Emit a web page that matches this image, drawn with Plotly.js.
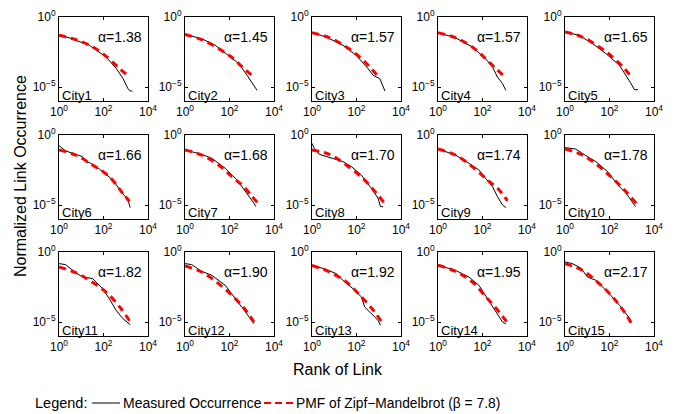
<!DOCTYPE html>
<html>
<head>
<meta charset="utf-8">
<script src="https://cdn.plot.ly/plotly-3.0.1.min.js"></script>
<style>html,body{margin:0;padding:0;background:#fff;}#chart{width:679px;height:414px;}</style>
</head>
<body>
<div id="chart"></div>
<script>
// City names and fitted exponents
const cityNames = ["City1","City2","City3","City4","City5","City6","City7","City8","City9","City10","City11","City12","City13","City14","City15"];
const alphas = ["1.38","1.45","1.57","1.57","1.65","1.66","1.68","1.70","1.74","1.78","1.82","1.90","1.92","1.95","2.17"];

// Measured occurrence: log10(rank), log10(normalized occurrence)
const measuredLogRank = [
  [0,0.45,1.36,2.12,2.58,2.88,3.10,3.20,3.30],
  [0,0.75,1.36,1.96,2.42,2.79,3.10,3.17,3.24],
  [0,0.63,1.39,1.99,2.52,2.75,3.05,3.20,3.28],
  [0,0.78,1.54,2.14,2.45,2.67,2.90,3.05],
  [0,0.63,1.24,1.84,2.45,2.75,2.97,3.12,3.28],
  [0,0.30,0.75,1.06,1.21,1.36,1.81,2.42,2.79,3.10,3.20],
  [0,0.75,1.21,1.81,2.34,2.79,3.10,3.18],
  [0,0.10,0.33,0.78,1.39,1.77,2.22,2.67,2.97,3.08,3.20],
  [0,0.78,1.39,1.84,2.14,2.45,2.67,2.90,3.05],
  [0,0.48,0.94,1.39,1.92,2.37,2.75,2.97,3.17],
  [0,0.30,0.75,1.06,1.51,1.96,2.26,2.57,2.87,3.05,3.20],
  [0,0.30,0.75,1.21,1.81,2.34,2.72,3.10],
  [0,0.63,1.09,1.39,1.84,2.22,2.37,2.75,2.97,3.08],
  [0,0.78,1.39,1.84,2.22,2.60,2.90,3.05],
  [0,0.33,0.71,1.01,1.39,1.99,2.45,2.75,2.97]
];
const measuredLogOcc = [
  [-1.31,-1.48,-2.02,-2.86,-3.69,-4.40,-5.12,-5.29,-5.29],
  [-1.24,-1.55,-2.02,-2.74,-3.33,-4.17,-4.88,-5.05,-5.24],
  [-1.12,-1.43,-2.02,-2.74,-3.69,-4.17,-4.40,-5.00,-5.29],
  [-1.12,-1.48,-2.14,-2.98,-3.57,-4.29,-4.76,-5.24],
  [-1.07,-1.31,-1.90,-2.62,-3.45,-4.17,-4.76,-5.19,-5.19],
  [-0.76,-1.14,-1.38,-1.55,-1.95,-1.95,-2.43,-3.21,-4.05,-4.64,-5.19],
  [-1.07,-1.38,-1.67,-2.38,-3.21,-4.17,-4.88,-5.10],
  [-0.60,-0.95,-1.38,-1.62,-1.90,-2.26,-2.86,-3.81,-4.52,-5.12,-5.12],
  [-1.00,-1.43,-2.02,-2.50,-3.10,-3.69,-4.40,-5.00,-5.19],
  [-0.90,-1.00,-1.48,-1.90,-2.62,-3.57,-4.17,-4.64,-5.12],
  [-0.83,-0.90,-1.48,-1.79,-1.90,-2.62,-3.33,-4.17,-4.76,-5.00,-5.19],
  [-0.83,-0.90,-1.38,-1.67,-2.38,-3.45,-4.29,-5.12],
  [-0.95,-1.24,-1.55,-2.02,-2.62,-3.21,-3.93,-4.52,-4.88,-5.24],
  [-0.95,-1.31,-1.79,-2.38,-3.33,-4.29,-5.00,-5.14],
  [-0.71,-0.83,-1.14,-1.79,-2.02,-2.98,-3.81,-4.40,-4.88]
];

// PMF of Zipf-Mandelbrot: log10(rank), log10(probability)
const pmfLogRank = [
  [0,0.76,1.52,2.12,2.73,3.18],
  [0,0.75,1.51,2.12,2.57,3.10],
  [0,0.78,1.54,2.14,2.60,3.05],
  [0,0.78,1.54,2.14,2.60,3.05],
  [0,0.78,1.54,2.14,2.67,3.05],
  [0,0.75,1.51,2.26,2.87,3.17],
  [0,0.75,1.51,2.11,2.64,3.02,3.25],
  [0,0.78,1.54,2.29,2.90,3.23],
  [0,0.78,1.54,2.22,2.75,3.12],
  [0,0.78,1.54,2.14,2.67,3.20],
  [0,0.75,1.36,2.11,2.79,3.20],
  [0,0.75,1.51,2.26,2.79,3.17],
  [0,0.78,1.54,2.29,2.82,3.23],
  [0,0.78,1.54,2.22,2.75,3.12],
  [0,0.78,1.54,2.14,2.67,3.05]
];
const pmfLogProb = [
  [-1.31,-1.62,-2.14,-2.81,-3.69,-4.29],
  [-1.24,-1.62,-2.26,-2.90,-3.57,-4.29],
  [-1.12,-1.48,-2.14,-2.86,-3.57,-4.40],
  [-1.12,-1.48,-2.14,-2.98,-3.69,-4.33],
  [-1.07,-1.43,-2.14,-2.86,-3.69,-4.40],
  [-1.07,-1.43,-2.14,-2.98,-4.17,-4.76],
  [-1.07,-1.43,-2.14,-2.98,-3.69,-4.40,-4.81],
  [-1.07,-1.38,-2.14,-3.10,-4.17,-4.81],
  [-1.00,-1.43,-2.26,-3.21,-3.93,-4.71],
  [-1.00,-1.43,-2.26,-3.10,-3.93,-4.88],
  [-1.07,-1.48,-2.02,-2.86,-4.05,-5.00],
  [-1.00,-1.43,-2.26,-3.33,-4.29,-5.19],
  [-0.95,-1.43,-2.14,-3.33,-4.29,-5.24],
  [-0.95,-1.38,-2.14,-3.33,-4.29,-5.05],
  [-0.83,-1.31,-2.26,-3.21,-4.29,-5.29]
];

const xTickVals = [1, 100, 10000];
const xTickText = ["10<sup>0</sup>","10<sup>2</sup>","10<sup>4</sup>"];
const yTickVals = [1, 1e-5];
const yTickText = ["10<sup>0</sup>","10<sup>−5</sup>"];

const W = 679, H = 414;
const colLeft = [59, 185, 312, 438, 565];
const rowTop = [17, 135, 252];
const pw = 89, ph = 84;
const FONT = "Liberation Sans, Arial, sans-serif";

const pow10 = a => a.map(v => Math.pow(10, v));

const traces = [];
const layout = {
  width: W, height: H,
  margin: {l:0, r:0, t:0, b:0},
  paper_bgcolor: "#fff", plot_bgcolor: "#fff",
  showlegend: false,
  font: {family: FONT, color: "#000", size: 12},
  annotations: [], shapes: []
};

for (let i = 0; i < 15; i++) {
  const r = Math.floor(i / 5), c = i % 5;
  const sfx = i === 0 ? "" : String(i + 1);
  const xa = "x" + sfx, ya = "y" + sfx;
  const x0 = colLeft[c] / W, x1 = (colLeft[c] + pw) / W;
  const y1 = 1 - rowTop[r] / H, y0 = 1 - (rowTop[r] + ph) / H;
  const axCommon = {
    type: "log", showgrid: false, zeroline: false,
    showline: true, linecolor: "#000", linewidth: 1, mirror: "ticks",
    ticks: "inside", ticklen: 3, tickcolor: "#000", tickwidth: 1,
    tickfont: {family: FONT, size: 12, color: "#000"}
  };
  layout["xaxis" + sfx] = Object.assign({}, axCommon, {
    domain: [x0, x1], range: [0, 4], anchor: ya,
    tickvals: xTickVals, ticktext: xTickText
  });
  layout["yaxis" + sfx] = Object.assign({}, axCommon, {
    domain: [y0, y1], range: [-6, 0], anchor: xa,
    tickvals: yTickVals, ticktext: yTickText
  });
  traces.push({
    x: pow10(measuredLogRank[i]), y: pow10(measuredLogOcc[i]),
    xaxis: xa, yaxis: ya, mode: "lines", type: "scatter",
    line: {color: "#000", width: 1, shape: "linear"},
    name: "Measured Occurrence", hoverinfo: "skip"
  });
  traces.push({
    x: pow10(pmfLogRank[i]), y: pow10(pmfLogProb[i]),
    xaxis: xa, yaxis: ya, mode: "lines", type: "scatter",
    line: {color: "#ff0000", width: 3, dash: "7px,5px", shape: "spline"},
    name: "PMF of Zipf−Mandelbrot (β = 7.8)", hoverinfo: "skip"
  });
  layout.annotations.push({
    xref: "paper", yref: "paper",
    x: (colLeft[c] + pw - 4) / W, y: 1 - (rowTop[r] + 20) / H,
    xanchor: "right", yanchor: "middle", showarrow: false,
    text: "α=" + alphas[i], font: {family: FONT, size: 14, color: "#000"}
  });
  layout.annotations.push({
    xref: "paper", yref: "paper",
    x: (colLeft[c] + 1) / W, y: 1 - (rowTop[r] + ph - 6) / H,
    xanchor: "left", yanchor: "middle", showarrow: false,
    text: cityNames[i], font: {family: FONT, size: 13, color: "#000"}
  });
}

// Axis titles
layout.annotations.push({
  xref: "paper", yref: "paper", x: 20 / W, y: 1 - 176 / H,
  text: "Normalized Link Occurrence", textangle: -90, showarrow: false,
  xanchor: "center", yanchor: "middle", font: {family: FONT, size: 16, color: "#000"}
});
layout.annotations.push({
  xref: "paper", yref: "paper", x: 338 / W, y: 1 - 369 / H,
  text: "Rank of Link", showarrow: false,
  xanchor: "center", yanchor: "middle", font: {family: FONT, size: 16, color: "#000"}
});

// Legend row
const legY = 1 - 403 / H;
layout.annotations.push({xref:"paper", yref:"paper", x: 33 / W, y: legY, xanchor:"left", yanchor:"middle",
  showarrow:false, text:"Legend:", font:{family:FONT, size:14.5, color:"#000"}});
layout.annotations.push({xref:"paper", yref:"paper", x: 121 / W, y: legY, xanchor:"left", yanchor:"middle",
  showarrow:false, text:"Measured Occurrence", font:{family:FONT, size:14, color:"#000"}});
layout.annotations.push({xref:"paper", yref:"paper", x: 294 / W, y: legY, xanchor:"left", yanchor:"middle",
  showarrow:false, text:"PMF of Zipf−Mandelbrot (β = 7.8)", font:{family:FONT, size:13.8, color:"#000"}});
layout.shapes.push({type:"line", xref:"paper", yref:"paper", x0: 92 / W, x1: 120 / W, y0: legY, y1: legY,
  line:{color:"#000", width:1}});
layout.shapes.push({type:"line", xref:"paper", yref:"paper", x0: 264 / W, x1: 293 / W, y0: legY, y1: legY,
  line:{color:"#ff0000", width:2, dash:"7px,4px"}});

Plotly.newPlot("chart", traces, layout, {staticPlot: true, displayModeBar: false});
</script>
</body>
</html>
